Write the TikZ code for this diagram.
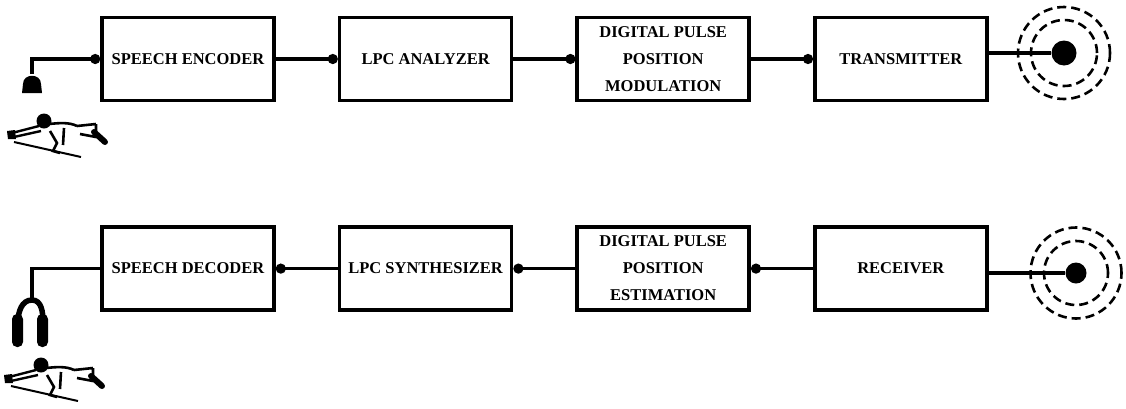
\documentclass[tikz,border=0pt]{standalone}
\usepackage{fontspec}
\setmainfont{Liberation Serif}
\usetikzlibrary{positioning,arrows.meta}

\tikzset{
	block/.style={draw, line width=3.6pt, rectangle, minimum width=172pt, minimum height=83pt,
		inner sep=1pt, align=center, font=\fontsize{16.5}{27}\selectfont\bfseries},
	link/.style={line width=3.4pt},
	dot/.style={link, -{Circle[length=10pt,width=10pt]}},
	ring/.style={draw, dashed, dash pattern=on 9pt off 5pt, line width=2.6pt, circle},
	% little person lying on the ground, head at the origin
	operator/.pic={
		\fill (0,0) circle (7.5);
		\draw[line width=2.4pt] (-5,5) -- (-32,12) (-3,10) -- (-30,16);
		\fill (-37,10) -- (-29,9) -- (-28,18) -- (-36,18) -- cycle;
		\draw[line width=2pt] (-30,21) -- (37,36);
		\draw[line width=2.6pt] (5,3) .. controls (15,2) and (25,1) .. (33,5)
			(6,10) -- (13,22) -- (9,30) -- (16,32)
			(20,7) -- (19,24);
		\draw[line width=2.6pt] (33,5) -- (52,3) (36,13) -- (52,16) (52,3) -- (52,16);
		\draw[line width=6pt, line cap=round] (50,11) -- (61,21);
	}
}

\begin{document}
\begin{tikzpicture}[x=1pt, y=-1pt]
	\useasboundingbox (0,0) rectangle (1126,408);

	% transmit chain
	\node[block]                      (enc)  at (188,59) {SPEECH ENCODER};
	\node[block, right=62pt of enc]   (lpca) {LPC ANALYZER};
	\node[block, right=62pt of lpca]  (dppm) {DIGITAL PULSE\\POSITION\\MODULATION};
	\node[block, right=62pt of dppm]  (tx)   {TRANSMITTER};

	% receive chain
	\node[block, below=123pt of enc]  (dec)  {SPEECH DECODER};
	\node[block, right=62pt of dec]   (lpcs) {LPC SYNTHESIZER};
	\node[block, right=62pt of lpcs]  (dppe) {DIGITAL PULSE\\POSITION\\ESTIMATION};
	\node[block, right=62pt of dppe]  (rx)   {RECEIVER};

	% antennas
	\node[circle, fill, minimum size=25pt, inner sep=0pt] (tant) at (1064,53) {};
	\node[ring, minimum size=66pt] at (tant) {};
	\node[ring, minimum size=92pt] at (tant) {};
	\node[circle, fill, minimum size=21pt, inner sep=0pt] (rant) at (1076,273) {};
	\node[ring, minimum size=64pt] at (rant) {};
	\node[ring, minimum size=91pt] at (rant) {};

	% microphone
	\coordinate (mic) at (32,74);
	\fill (22,93) -- (23,84) .. controls (23,73) and (41,73) .. (41,84) -- (42,93) -- cycle;

	% headphones
	\coordinate (phone) at (32,300);
	\draw[line width=5.5pt] (18,322) to[out=90,in=180] (phone) to[out=0,in=90] (43,322);
	\fill[rounded corners=5pt] (12,314) rectangle (23,347);
	\fill[rounded corners=5pt] (37,314) rectangle (48,347);

	\pic at (44,121) {operator};
	\pic at (41,365) {operator};

	\draw[dot] (mic) |- (enc.west);
	\draw[dot] (enc) -- (lpca);
	\draw[dot] (lpca) -- (dppm);
	\draw[dot] (dppm) -- (tx);
	\draw[link] (tx.east |- tant) -- (tant);

	\draw[link] (rant) -- (rant -| rx.east);
	\draw[dot] (rx) -- (dppe);
	\draw[dot] (dppe) -- (lpcs);
	\draw[dot] (lpcs) -- (dec);
	\draw[link] (dec.west) -| (phone);
\end{tikzpicture}
\end{document}
